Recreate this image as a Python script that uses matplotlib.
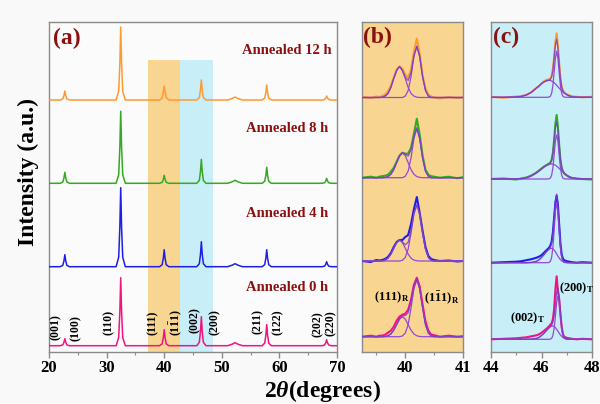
import numpy as np
import matplotlib
matplotlib.use('Agg')
import matplotlib.pyplot as plt
from matplotlib.ticker import MultipleLocator

plt.rcParams['font.family'] = ['Liberation Serif', 'DejaVu Serif']
plt.rcParams['font.weight'] = 'bold'
plt.rcParams['mathtext.fontset'] = 'custom'
plt.rcParams['mathtext.rm'] = 'Liberation Serif:bold'
plt.rcParams['mathtext.bf'] = 'Liberation Serif:bold'
plt.rcParams['mathtext.it'] = 'Liberation Serif:bold:italic'

# ---------------- data: panel (a) full patterns ----------------
samples = ['Annealed 12 h', 'Annealed 8 h', 'Annealed 4 h', 'Annealed 0 h']
x_a = [20.0,
       21.95, 22.4, 22.6, 22.75, 22.9, 23.1, 23.55,
       31.65, 32.1, 32.3, 32.45, 32.6, 32.8, 33.25,
       39.2, 39.65, 39.85, 40.0, 40.15, 40.35, 40.8,
       45.65, 46.1, 46.3, 46.45, 46.6, 46.8, 47.25,
       51.0, 51.8, 52.3, 52.8, 53.6,
       57.0, 57.45, 57.65, 57.8, 57.95, 58.15, 58.6,
       67.4, 67.85, 68.05, 68.2, 68.35, 68.55, 69.0,
       70.0]
y_a_12h = [0,
           0, 1.1, 4.5, 9, 4.5, 1.1, 0,
           0, 8.8, 36.5, 73, 36.5, 8.8, 0,
           0, 2, 9, 14, 8, 2.5, 0,
           0, 2.4, 10, 20, 10, 2.4, 0,
           0, 1.5, 3, 1.5, 0,
           0, 2, 7.5, 15, 7.5, 1.8, 0,
           0, 0.5, 2, 4, 2, 0.5, 0,
           0]
y_a_8h = [0,
          0, 1.3, 5.5, 11, 5.5, 1.3, 0,
          0, 8.6, 36, 72, 36, 8.6, 0,
          0, 1, 4, 8, 4, 1, 0,
          0, 2.9, 12, 24, 12, 2.9, 0,
          0, 1.5, 3, 1.5, 0,
          0, 2, 8, 16, 8, 1.9, 0,
          0, 0.6, 2.5, 5, 2.5, 0.6, 0,
          0]
y_a_4h = [0,
          0, 1.4, 6, 12, 6, 1.4, 0,
          0, 9.5, 39.5, 79, 39.5, 9.5, 0,
          0, 2, 8.5, 17, 8.5, 2, 0,
          0, 3, 12.5, 25, 12.5, 3, 0,
          0, 1.5, 3, 1.5, 0,
          0, 2.1, 8.5, 17, 8.5, 2, 0,
          0, 0.6, 2.5, 5, 2.5, 0.6, 0,
          0]
y_a_0h = [0,
          0, 0.8, 3.5, 7, 3.5, 0.8, 0,
          0, 8.2, 34, 68, 34, 8.2, 0,
          0, 1.9, 8, 16, 8, 1.9, 0,
          0, 3.5, 14.5, 29, 14.5, 3.5, 0,
          0, 1.5, 3, 1.5, 0,
          0, 2.6, 10.5, 21, 10.5, 2.5, 0,
          0, 0.7, 3, 6, 3, 0.7, 0,
          0]
hkl_labels = ['(001)', '(100)', '(110)', '(111)', r'$\mathbf{(1\bar{1}1)}$', '(002)',
              '(200)', '(211)', '(122)', '(202)', '(220)']
hkl_x = [21.2, 24.7, 30.3, 38.1, 42.0, 45.3, 48.7, 56.3, 59.8, 66.7, 69.0]
hkl_y = [25.3, 24.2, 29.5, 28.7, 29.5, 32.0, 30.3, 30.3, 29.8, 28.2, 29.0]
region_111 = (37.2, 42.8)
region_200 = (42.8, 48.5)

# ---------------- data: panel (b) 39.25-41 deg ----------------
x_b = [39.25, 39.4, 39.5, 39.55, 39.6, 39.65, 39.7, 39.75, 39.8, 39.85, 39.9, 39.95, 40.0,
       40.05, 40.1, 40.15, 40.2, 40.25, 40.3, 40.35, 40.4, 40.45, 40.5, 40.6, 40.75, 40.9, 41.0]
b_raw_12h = [0.5, -0.5, 1, 0.5, 1.5, 3, 6, 12, 20, 28, 31, 29, 23, 20, 28, 46, 59, 44, 22, 9, 3, 1, 0, -1, 0.5, -0.5, 0]
b_c1_12h = [0, 0, 0, 0, 0.3, 1.4, 4, 10, 19, 27, 31, 27, 19, 10, 4, 1.4, 0.3, 0, 0, 0, 0, 0, 0, 0, 0, 0, 0]
b_c2_12h = [0, 0, 0, 0, 0, 0, 0, 0, 0, 0, 0, 0, 1.4, 7, 21, 41, 51, 41, 21, 7, 1.4, 0, 0, 0, 0, 0, 0]
b_raw_8h = [0, 1, 0, 1, 1.5, 2, 3, 6, 10, 16, 22, 25, 24, 24, 30, 44, 59, 43, 22, 8, 3, 1.5, 1, 0, 1, -0.5, 0.5]
b_c1_8h = [0, 0, 0, 0, 0, 0.3, 1.1, 3.4, 8, 15, 22, 25, 22, 15, 8, 3.4, 1.1, 0.3, 0, 0, 0, 0, 0, 0, 0, 0, 0]
b_c2_8h = [0, 0, 0, 0, 0, 0, 0, 0, 0, 0, 0, 0, 1.4, 6.6, 20, 39, 49, 39, 20, 6.6, 1.4, 0, 0, 0, 0, 0, 0]
b_raw_4h = [0, -1, 1, 0.5, 1, 2, 4, 8, 14, 19, 21, 21, 24, 26, 37, 52, 64, 48, 30, 14, 5, 2, 1, 0, 0.5, -0.5, 0]
b_c1_4h = [0, 0, 0, 0, 0.2, 0.9, 2.8, 6.8, 12.7, 18.5, 21, 18.5, 12.7, 6.8, 2.8, 0.9, 0.2, 0, 0, 0, 0, 0, 0, 0, 0, 0, 0]
b_c2_4h = [0, 0, 0, 0, 0, 0, 0, 0, 0, 0, 0, 0.7, 3.5, 12, 28, 47, 56, 47, 28, 12, 3.5, 0.7, 0, 0, 0, 0, 0]
b_raw_0h = [0, 1, 0, 1, 1, 2, 4, 6, 10, 16, 20, 22, 23, 27, 37, 52, 59, 50, 32, 15, 6, 2, 1.5, 0, 1, 0, 0.5]
b_c1_0h = [0, 0, 0, 0, 0, 0.2, 0.9, 2.7, 6.5, 12, 17.6, 20, 17.6, 12, 6.5, 2.7, 0.9, 0.2, 0, 0, 0, 0, 0, 0, 0, 0, 0]
b_c2_0h = [0, 0, 0, 0, 0, 0, 0, 0, 0, 0, 0, 0.7, 3.6, 12, 29, 48, 57, 48, 29, 12, 3.6, 0.7, 0, 0, 0, 0, 0]

# ---------------- data: panel (c) 44-48 deg ----------------
x_c = [44.0, 44.5, 45.0, 45.2, 45.4, 45.6, 45.8, 45.9, 46.0, 46.1, 46.2, 46.3, 46.35, 46.4, 46.45,
       46.5, 46.55, 46.6, 46.65, 46.7, 46.75, 46.8, 46.85, 46.9, 47.0, 47.1, 47.2, 47.4, 47.6, 48.0]
c_raw_12h = [0.5, -0.5, 0.8, 1.2, 2.5, 5, 9.5, 11, 14, 16, 17.5, 18, 19, 21, 28, 40, 55, 64, 52, 34,
             19, 10, 7, 5, 3, 2, 1, 0.5, 0, 0.5]
c_c1_12h = [0, 0, 0.3, 0.9, 2.3, 5.1, 9.2, 11.4, 13.6, 15.4, 16.6, 17, 16.8, 16.3, 15.6, 14.6, 13.4,
            12, 10.6, 9.2, 7.8, 6.5, 5.3, 4.2, 2.6, 1.4, 0.7, 0.1, 0, 0]
c_c2_12h = [0, 0, 0, 0, 0, 0, 0, 0, 0, 0, 0, 0.2, 1, 3.9, 11.5, 25, 39, 46, 39, 25, 11.5, 3.9, 1, 0.2,
            0, 0, 0, 0, 0, 0]
c_raw_8h = [0, 0.5, -0.5, 0.5, 1.5, 3.5, 6.5, 8.5, 10.5, 12.5, 14, 15.5, 16.5, 19, 26, 39, 55, 64, 52,
            34, 19, 11, 7.5, 5.5, 3.5, 2, 1, 0.5, 0, -0.5]
c_c1_8h = [0, 0, 0.12, 0.4, 1.3, 3.1, 6.2, 8.1, 10, 12, 13.6, 14.6, 14.9, 15, 14.9, 14.4, 13.8, 12.9,
           11.8, 10.6, 9.3, 8.1, 6.9, 5.7, 3.7, 2.3, 1.3, 0.3, 0.06, 0]
c_c2_8h = [0, 0, 0, 0, 0, 0, 0, 0, 0, 0, 0, 0.2, 0.9, 3.7, 11, 24, 38, 44, 38, 24, 11, 3.7, 0.9, 0.2,
           0, 0, 0, 0, 0, 0]
c_raw_4h = [0, 0.5, 1, 1.5, 2.5, 3.5, 5, 6, 7.5, 10, 12.5, 15, 17, 21, 30, 45, 60, 67, 58, 38, 19, 8,
            4, 2.5, 1.5, 1, 0.5, 0, 0.5, 0]
c_c1_4h = [0, 0, 0, 0, 0, 0.25, 1.4, 2.9, 5.2, 8.1, 11.2, 13.5, 14.2, 14.4, 14, 12.7, 10.9, 8.7, 6.6,
           4.7, 3.1, 1.9, 1.2, 0.6, 0.16, 0, 0, 0, 0, 0]
c_c2_4h = [0, 0, 0, 0, 0, 0, 0, 0, 0, 0, 0, 0.2, 1.3, 5.1, 15, 32, 51, 60, 51, 32, 15, 5.1, 1.3, 0.2,
           0, 0, 0, 0, 0, 0]
c_raw_0h = [0, 0.5, 1, 1.5, 2, 3, 4, 5, 6.5, 8.5, 10.5, 13, 14.5, 16, 20, 30, 50, 63, 48, 40, 25, 12,
            5, 2.5, 1.5, 1, 0.5, 0, 0.5, 0]
c_c1_0h = [0, 0, 0, 0, 0, 0.13, 0.9, 1.9, 3.7, 6.1, 8.9, 11.5, 12.5, 13.1, 13.3, 12.9, 11.7, 10, 8.1,
           6.1, 4.3, 2.9, 1.8, 1.1, 0.3, 0.07, 0, 0, 0, 0]
c_c2_0h = [0, 0, 0, 0, 0, 0, 0, 0, 0, 0, 0, 0, 0.2, 0.9, 3.7, 10.8, 23, 37, 43, 37, 23, 10.8, 3.7,
           0.9, 0, 0, 0, 0, 0, 0]

# ---------------- style / layout ----------------
colors = ['#FF9A30', '#33AA22', '#1E1EE6', '#F0147F']
fit_color = '#9448D8'
env_color = '#7A3CC8'
text_red = '#8B1010'
fill_orange = '#F9D592'
fill_cyan = '#C8EEF8'
spine_color = '#8a8a8a'
offsets_a = [252, 168.7, 85.3, 6.3]
offsets_b = [254.5, 174.3, 91, 15.3]
offsets_c = [254.7, 173, 89.3, 12.7]
label_y = [302, 223, 138.7, 64.7]

fig = plt.figure(figsize=(6.0, 4.04), dpi=100, facecolor='#f8f9f8')
W, H = 600.0, 404.0
def axes_px(x0, x1, y0, y1):
    return fig.add_axes([x0 / W, 1 - y1 / H, (x1 - x0) / W, (y1 - y0) / H])

axa = axes_px(49, 337, 22, 352)
axb = axes_px(362, 463, 22, 352)
axc = axes_px(491, 592, 22, 352)

for ax in (axa, axb, axc):
    ax.set_ylim(0, 330)
    ax.set_yticks([])
    for s in ax.spines.values():
        s.set_color(spine_color)
        s.set_linewidth(1.0)
    ax.tick_params(axis='x', which='major', direction='out', length=4, width=1,
                   color=spine_color, labelsize=12, pad=2)
    ax.tick_params(axis='x', which='minor', direction='out', length=2, width=0.8,
                   color=spine_color)

# panel (a)
axa.set_facecolor('#fbfbfb')
axa.set_xlim(20, 70)
axa.xaxis.set_major_locator(MultipleLocator(10))
axa.xaxis.set_minor_locator(MultipleLocator(5))
shade_top = 292 / 330
axa.axvspan(*region_111, ymin=0, ymax=shade_top, color=fill_orange, lw=0, zorder=0)
axa.axvspan(*region_200, ymin=0, ymax=shade_top, color=fill_cyan, lw=0, zorder=0)
for ys, off, col, lab, ly in zip([y_a_12h, y_a_8h, y_a_4h, y_a_0h], offsets_a, colors, samples, label_y):
    axa.plot(x_a, off + np.asarray(ys), color=col, lw=1.1, zorder=3)
    axa.text(61.3, ly, lab, color=text_red, fontsize=10.5, fontweight='bold',
             ha='center', va='center')
for lab, hx, hy in zip(hkl_labels, hkl_x, hkl_y):
    axa.text(hx, hy, lab, rotation=90, fontsize=8.5, fontweight='bold',
             ha='center', va='center', color='black', zorder=4)
axa.text(20.7, 314, '(a)', color=text_red, fontsize=17, fontweight='bold', ha='left', va='center')

# panel (b)
axb.set_facecolor(fill_orange)
axb.set_xlim(39.25, 41)
axb.set_xticks([40, 41])
axb.xaxis.set_minor_locator(MultipleLocator(0.5))
b_sets = [(b_raw_12h, b_c1_12h, b_c2_12h), (b_raw_8h, b_c1_8h, b_c2_8h),
          (b_raw_4h, b_c1_4h, b_c2_4h), (b_raw_0h, b_c1_0h, b_c2_0h)]
for (raw, c1, c2), off, col in zip(b_sets, offsets_b, colors):
    c1 = np.asarray(c1); c2 = np.asarray(c2)
    axb.plot(x_b, off + np.asarray(raw), color=col, lw=1.5, zorder=3)
    axb.plot(x_b, off + c1, color=fit_color, lw=0.9, zorder=4)
    axb.plot(x_b, off + c2, color=fit_color, lw=0.9, zorder=4)
    axb.plot(x_b, off + c1 + c2, color=env_color, lw=0.9, zorder=4, alpha=0.85)
axb.text(39.27, 315, '(b)', color=text_red, fontsize=17, fontweight='bold', ha='left', va='center')
axb.text(39.45, 55, r'$\mathbf{(111)_R}$', fontsize=9, ha='left', va='center')
axb.text(40.32, 54, r'$\mathbf{(1\bar{1}1)_R}$', fontsize=9, ha='left', va='center')

# panel (c)
axc.set_facecolor(fill_cyan)
axc.set_xlim(44, 48)
axc.set_xticks([44, 46, 48])
axc.xaxis.set_minor_locator(MultipleLocator(1))
c_sets = [(c_raw_12h, c_c1_12h, c_c2_12h), (c_raw_8h, c_c1_8h, c_c2_8h),
          (c_raw_4h, c_c1_4h, c_c2_4h), (c_raw_0h, c_c1_0h, c_c2_0h)]
for (raw, c1, c2), off, col in zip(c_sets, offsets_c, colors):
    c1 = np.asarray(c1); c2 = np.asarray(c2)
    axc.plot(x_c, off + np.asarray(raw), color=col, lw=1.5, zorder=3)
    axc.plot(x_c, off + c1, color=fit_color, lw=0.9, zorder=4)
    axc.plot(x_c, off + c2, color=fit_color, lw=0.9, zorder=4)
    axc.plot(x_c, off + c1 + c2, color=env_color, lw=0.9, zorder=4, alpha=0.85)
axc.text(44.08, 315, '(c)', color=text_red, fontsize=17, fontweight='bold', ha='left', va='center')
axc.text(46.7, 64, r'$\mathbf{(200)_T}$', fontsize=9, ha='left', va='center')
axc.text(44.75, 34, r'$\mathbf{(002)_T}$', fontsize=9, ha='left', va='center')

for ax in (axa, axb, axc):
    for t in ax.get_xticklabels():
        t.set_fontweight('bold')

fig.text(28 / W, 1 - 172 / H, 'Intensity (a.u.)', rotation=90, fontsize=17,
         fontweight='bold', ha='center', va='center')
fig.text(322 / W, 1 - 391 / H, r'$\mathit{2\theta}$(degrees)', fontsize=17,
         fontweight='bold', ha='center', va='center')

fig.savefig('out.png', dpi=100, facecolor=fig.get_facecolor())
